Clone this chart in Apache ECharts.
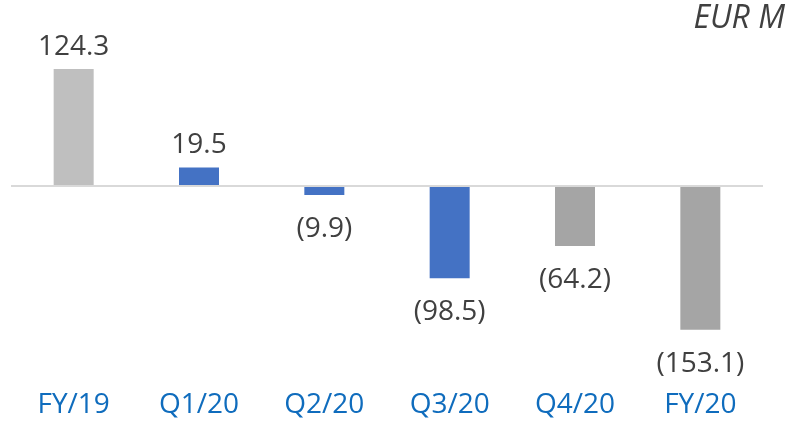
<!DOCTYPE html>
<html>
<head>
<meta charset="utf-8">
<script src="https://cdn.jsdelivr.net/npm/echarts@6/dist/echarts.min.js"></script>
<style>
  html, body { margin: 0; padding: 0; background: #fff; }
  #chart { width: 787px; height: 423px; }
</style>
</head>
<body>
<div id="chart"></div>
<script>
// periods and result values (EUR M)
const categories = ['FY/19', 'Q1/20', 'Q2/20', 'Q3/20', 'Q4/20', 'FY/20'];
const values = [124.3, 19.5, -9.9, -98.5, -64.2, -153.1];
const unitLabel = 'EUR M';

// bar colours per period
const barColors = ['#bfbfbf', '#4472c4', '#4472c4', '#4472c4', '#a5a5a5', '#a5a5a5'];

const chart = echarts.init(document.getElementById('chart'));

const fmt = v => v < 0 ? '(' + Math.abs(v).toFixed(1) + ')' : v.toFixed(1);

const option = {
    animation: false,
    textStyle: { fontFamily: 'Open Sans' },
    graphic: [{
        type: 'text',
        right: 2,
        top: 3,
        style: {
            text: unitLabel,
            font: 'italic 32px "Open Sans"',
            fill: '#404040'
        }
    }],
    grid: { left: 11, right: 24, top: 26, bottom: 38 },
    xAxis: {
        type: 'category',
        data: categories,
        axisLine: { show: false, onZero: false },
        axisTick: { show: false },
        axisLabel: {
            color: '#0f6cbd',
            fontSize: 28,
            margin: 6
        }
    },
    yAxis: {
        type: 'value',
        min: -212,
        max: 170,
        show: false,
        splitLine: { show: false }
    },
    series: [{
        type: 'bar',
        barWidth: 40,
        data: values.map((v, i) => ({
            value: v,
            itemStyle: { color: barColors[i] },
            label: {
                position: v < 0 ? 'bottom' : 'top',
                distance: v < 0 ? 20 : 8
            }
        })),
        label: {
            show: true,
            color: '#404040',
            fontSize: 28,
            formatter: p => fmt(p.value)
        },
        markLine: {
            silent: true,
            symbol: 'none',
            label: { show: false },
            lineStyle: { color: '#d9d9d9', width: 2, type: 'solid' },
            data: [{ yAxis: 0 }]
        }
    }]
};

chart.setOption(option);
</script>
</body>
</html>
